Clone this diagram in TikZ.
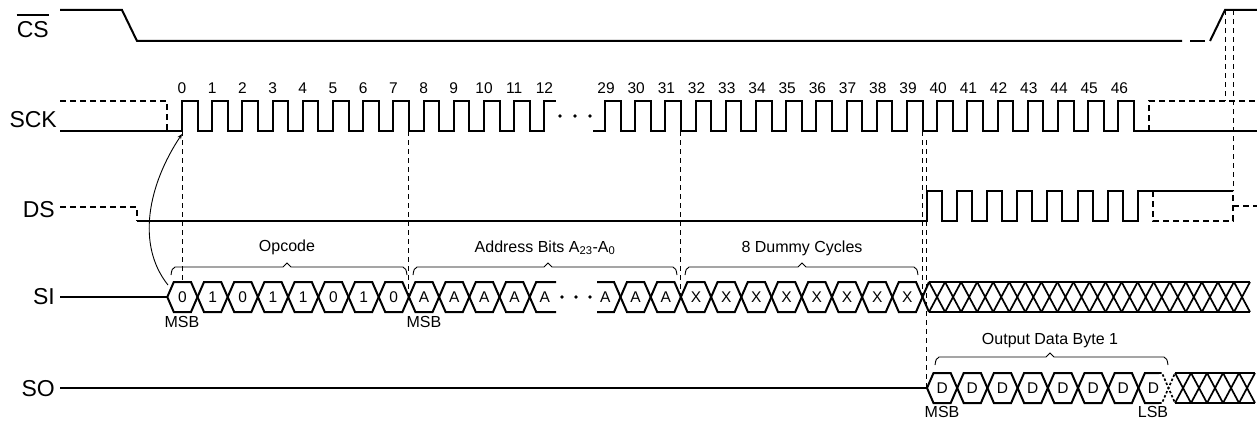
\documentclass[tikz,border=0pt]{standalone}
\usepackage{fontspec}
\setmainfont{Liberation Sans}
\usetikzlibrary{arrows.meta}
\newcommand\hexcell[5]{%
  \draw[sig] ({#1},{#3}) -- ({#1+6.5},{#3-15}) -- ({#2-6.5},{#3-15}) -- ({#2},{#3}) -- ({#2-6.5},{#3+15}) -- ({#1+6.5},{#3+15}) -- cycle;
  \node[hexlab] (#5) at ({(#1+#2)/2},{#3}) {#4};}
\newcommand\hatchrun[4]{%
  \draw[hsig] ({#1},{#3-15}) -- ({#2},{#3-15}) ({#1},{#3+15}) -- ({#2},{#3+15});
  \pgfmathsetmacro\hw{(#2-#1)/#4}
  \foreach \j in {1,...,#4} {\draw[hsig] ({#1+(\j-1)*\hw},{#3-15}) -- ({#1+\j*\hw},{#3+15}) ({#1+(\j-1)*\hw},{#3+15}) -- ({#1+\j*\hw},{#3-15});}}
\newcommand\tbrace[4]{%
  \draw[brace] ({#1},{#4+8}) .. controls ({#1+1},{#4+2}) .. ({#1+4},{#4}) -- ({#3-4},{#4}) -- ({#3},{#4-4}) -- ({#3+4},{#4}) -- ({#2-4},{#4}) .. controls ({#2-1},{#4+2}) .. ({#2},{#4+8});}
\begin{document}
\begin{tikzpicture}[x=1pt,y=-1pt,
  sig/.style={line width=2pt, line join=miter},
  hsig/.style={line width=1.7pt},
  dsig/.style={line width=2pt, dash pattern=on 6pt off 4pt},
  guide/.style={line width=0.9pt, dash pattern=on 5pt off 4pt},
  brace/.style={line width=0.9pt},
  siglabel/.style={anchor=east, font=\fontsize{23}{23}\selectfont, inner sep=0pt},
  num/.style={font=\fontsize{15.5}{15.5}\selectfont, inner sep=0pt},
  hexlab/.style={font=\fontsize{15.5}{15.5}\selectfont, inner sep=0pt},
  note/.style={font=\fontsize{16}{16}\selectfont, inner sep=0pt, anchor=base},
  tag/.style={font=\fontsize{16}{16}\selectfont, inner sep=0pt, anchor=base},
]
\useasboundingbox (0,0) rectangle (1257,420);
\pgfmathsetmacro{\clkP}{30.2}
\pgfmathsetmacro{\clkH}{15.5}
% labels
\node[siglabel] (cs) at (49,29.5) {CS};
\draw[line width=1.5pt] ([yshift=6pt]cs.north west) -- ([yshift=6pt]cs.north east);
\node[siglabel] (sck) at (57,120) {SCK};
\node[siglabel] (ds) at (55,210) {DS};
\node[siglabel] (si) at (55,297) {SI};
\node[siglabel] (so) at (55,389) {SO};
% CS
\draw[sig] (60,10) -- (122,10) -- (137,41) -- (1182,41);
\draw[sig] (1190,41) -- (1205,41);
\draw[sig] (1210,41) -- (1225,10) -- (1257,10);
\draw[guide] (1225,10) -- (1225,101);
\draw[guide] (1233,10) -- (1233,191);
% SCK
\draw[dsig] (60,101) -- (167,101) -- (167,131);
\draw[sig] (60,131) -- (182,131) foreach \k in {0,...,11} { -- ({182+\k*\clkP},101) -- ({182+\k*\clkP+\clkH},101) -- ({182+\k*\clkP+\clkH},131) -- ({182+(\k+1)*\clkP},131) } -- ({182+12*\clkP},101) -- (556,101);
\foreach \xx [count=\i] in {560,575,590} \fill (\xx,116) circle (1.9);
\draw[sig] (593,131) -- (605,131) foreach \k in {0,...,17} { -- ({605+\k*\clkP},101) -- ({605+\k*\clkP+\clkH},101) -- ({605+\k*\clkP+\clkH},131) -- ({605+(\k+1)*\clkP},131) } -- (1257,131);
\draw[dsig] (1149,131) -- (1149,101) -- (1257,101);
\foreach \k in {0,...,12} \node[num] (c\k) at ({182+\k*\clkP},88) {\k};
\foreach \k in {29,...,46} \node[num] (c\k) at ({605+(\k-29)*\clkP+1},88) {\k};
% DS
\draw[dsig] (60,207) -- (137,207) -- (137,221);
\draw[sig] (137,221) -- (926.5,221) foreach \k in {0,...,6} { -- ({926.5+\k*\clkP},191) -- ({926.5+\k*\clkP+15.1},191) -- ({926.5+\k*\clkP+15.1},221) -- ({926.5+(\k+1)*\clkP},221) } -- ({926.5+7*\clkP},191) -- (1233,191);
\draw[dsig] (1153,191) -- (1153,221) -- (1233,221) -- (1233,191);
\draw[dsig] (1233,206) -- (1257,206);
% guides
\draw[guide] (182,131) -- (182,282);
\draw[guide] (408.9,131) -- (408.9,297);
\draw[guide] (680.9,131) -- (680.9,297);
\draw[guide] (922.5,131) -- (922.5,297);
\draw[guide] (926.5,140) -- (926.5,388);
% SI
\draw[sig] (60,297) -- (167.3,297);
\foreach \lab [count=\k from 0] in {0,1,0,1,1,0,1,0,A,A,A,A} {\hexcell{167.3+\k*30.2}{167.3+(\k+1)*30.2}{297}{\lab}{si\k}}
\draw[sig] (556,282) -- (536.2,282) -- (529.7,297) -- (536.2,312) -- (556,312);
\node[hexlab] (si12) at (544.8,297) {A};
\foreach \xx [count=\i] in {562,576,590} \fill (\xx,297) circle (1.9);
\draw[sig] (597,282) -- (614,282) -- (620.5,297) -- (614,312) -- (597,312);
\node[hexlab] (si29) at (605.4,297) {A};
\foreach \lab [count=\k from 30] in {A,A,X,X,X,X,X,X,X,X} {\hexcell{620.5+(\k-30)*30.2}{620.5+(\k-29)*30.2}{297}{\lab}{si\k}}
\draw[sig] (929,282) -- (922.5,297) -- (929,312);
\hatchrun{929}{1250}{297}{20}
\node[tag] (msb1) at (182,327) {MSB};
\node[tag] (msb2) at (424,327) {MSB};
% braces
\tbrace{171}{407}{287}{267}
\node[note] (opc) at (287,251) {Opcode};
\tbrace{413}{677}{548}{267}
\node[note] (adr) at (545,252) {Address Bits A\textsubscript{23}-A\textsubscript{0}};
\tbrace{685}{918}{802}{267}
\node[note] (dum) at (802,252) {8 Dummy Cycles};
\tbrace{935}{1168}{1050}{357}
\node[note] (odb) at (1050,344) {Output Data Byte 1};
% SO
\draw[sig] (60,388) -- (927,388);
\foreach \k in {0,...,6} {\hexcell{927+\k*30.2}{927+(\k+1)*30.2}{388}{D}{so\k}}
\draw[sig] (1159,373) -- (1144.9,373) -- (1138.4,388) -- (1144.9,403) -- (1159,403);
\node[hexlab] (so7) at (1153.5,388) {D};
\draw[line width=1.7pt, dash pattern=on 2.5pt off 2pt] (1159,373) -- (1162,373) -- (1175,403) (1159,403) -- (1162,403) -- (1175,373);
\hatchrun{1175}{1255}{388}{5}
\node[tag] (msb3) at (942,417) {MSB};
\node[tag] (lsb) at (1153,417) {LSB};
% arrow
\draw[line width=0.9pt, -{Stealth[length=5pt,width=4pt]}] (168,285) .. controls (136,245) and (148,185) .. (182,134);
\end{tikzpicture}
\end{document}
